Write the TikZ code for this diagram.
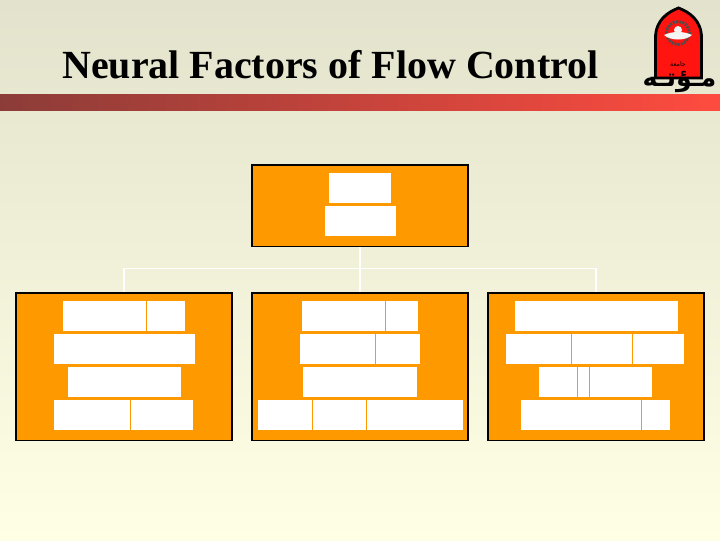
\documentclass[tikz,border=0pt]{standalone}
\usepackage{fontspec}
\setmainfont{Liberation Serif}
\newfontfamily\arabicfont[Script=Arabic]{DejaVu Sans}
\TeXXeTstate=1
\usepackage{tikz}
\usetikzlibrary{positioning}
\definecolor{panelorange}{HTML}{FF9900}
\definecolor{bgtop}{HTML}{E3E3CD}
\definecolor{bgbottom}{HTML}{FFFFE5}
\definecolor{banddark}{HTML}{8C3C38}
\definecolor{bandlight}{HTML}{FF4B3F}
\definecolor{logored}{HTML}{FF1410}
\begin{document}
\begin{tikzpicture}[
    x=0.025cm, y=-0.025cm,
    panel/.style={
      draw=black, fill=panelorange, line width=1.2pt,
      minimum height=#1*0.025cm, minimum width=216.3*0.025cm,
      inner sep=0pt, anchor=north west,
    },
    tbox/.style={fill=white, inner sep=0pt, anchor=north west, minimum height=0.75cm},
    link/.style={draw=white, line width=0.9pt},
    title/.style={font=\bfseries\fontsize{28.4}{32}\selectfont, inner sep=0pt, anchor=base west},
  ]
    \useasboundingbox (0,0) rectangle (720,540);
    % ===== Slide background =====
    \shade[top color=bgtop, bottom color=bgbottom] (0,0) rectangle (720,540);
    \shade[left color=banddark, right color=bandlight] (0,94) rectangle (720,110);
    \node[title] (head) at (62,78) {Neural Factors of Flow Control};

    % ===== Logo =====
    \draw[fill=logored, line width=2pt] (655.5,78) -- (655.5,38)
      .. controls (655.5,20) and (668,12) .. (678.5,8)
      .. controls (689,12) and (701.5,20) .. (701.5,38) -- (701.5,78) -- cycle;
    \draw[black!70, line width=2pt, dash pattern=on 1.5pt off 0.8pt] (678,33) circle (11.5);
    \fill[white!92!gray] (664,35) .. controls (672,31) and (684,31) .. (692,35)
      .. controls (686,41) and (670,41) .. (664,35) -- cycle;
    \fill[white!90!gray] (678,30) circle (4);
    \node[font=\arabicfont\fontsize{4.5}{5}\selectfont, inner sep=0pt, anchor=base] (logotop) at (678,66) {\beginR جامعة\endR};
    \node[font=\arabicfont\bfseries\fontsize{18}{18}\selectfont, inner sep=0pt, anchor=base] (logotext) at (679.5,86) {\beginR مـؤتـه\endR};

    % ===== Panels =====
    \node[panel=147.5] (left) at (15,292) {};
    \node[panel=147.5] (mid) at (251,292) {};
    \node[panel=147.5] (right) at (487,292) {};
    \node[panel=81.5] (root) at (251,164) {};

    % ===== Connectors =====
    \coordinate (bus) at (360,268.5);
    \draw[link] (root.south) -- (mid.north);
    \draw[link] (left.north) |- (bus) -| (right.north);

    % ===== Root boxes =====
    \node[tbox, minimum width=62*0.025cm] (r1) at (329,173) {};
    \node[tbox, minimum width=71*0.025cm] (r2) at (325,206) {};

    % ===== Left panel boxes =====
    \node[tbox, minimum width=83*0.025cm] (a1) at (63,301) {};
    \node[tbox, minimum width=38*0.025cm] (a2) at (147,301) {};
    \node[tbox, minimum width=141*0.025cm] (a3) at (54,334) {};
    \node[tbox, minimum width=113*0.025cm] (a4) at (68,367) {};
    \node[tbox, minimum width=76*0.025cm] (a5) at (54,400) {};
    \node[tbox, minimum width=62*0.025cm] (a6) at (131,400) {};

    % ===== Middle panel boxes =====
    \node[tbox, minimum width=83*0.025cm] (b1) at (302,301) {};
    \node[tbox, minimum width=32*0.025cm] (b2) at (386,301) {};
    \node[tbox, minimum width=75*0.025cm] (b3) at (300,334) {};
    \node[tbox, minimum width=44*0.025cm] (b4) at (376,334) {};
    \node[tbox, minimum width=114*0.025cm] (b5) at (303,367) {};
    \node[tbox, minimum width=54*0.025cm] (b6) at (258,400) {};
    \node[tbox, minimum width=53*0.025cm] (b7) at (313,400) {};
    \node[tbox, minimum width=96*0.025cm] (b8) at (367,400) {};

    % ===== Right panel boxes =====
    \node[tbox, minimum width=163*0.025cm] (c1) at (515,301) {};
    \node[tbox, minimum width=65*0.025cm] (c2) at (506,334) {};
    \node[tbox, minimum width=60*0.025cm] (c3) at (572,334) {};
    \node[tbox, minimum width=51*0.025cm] (c4) at (633,334) {};
    \node[tbox, minimum width=38*0.025cm] (c5) at (539,367) {};
    \node[tbox, minimum width=11*0.025cm] (c6) at (578,367) {};
    \node[tbox, minimum width=62*0.025cm] (c7) at (590,367) {};
    \node[tbox, minimum width=120*0.025cm] (c8) at (521,400) {};
    \node[tbox, minimum width=28*0.025cm] (c9) at (642,400) {};
\end{tikzpicture}
\end{document}
